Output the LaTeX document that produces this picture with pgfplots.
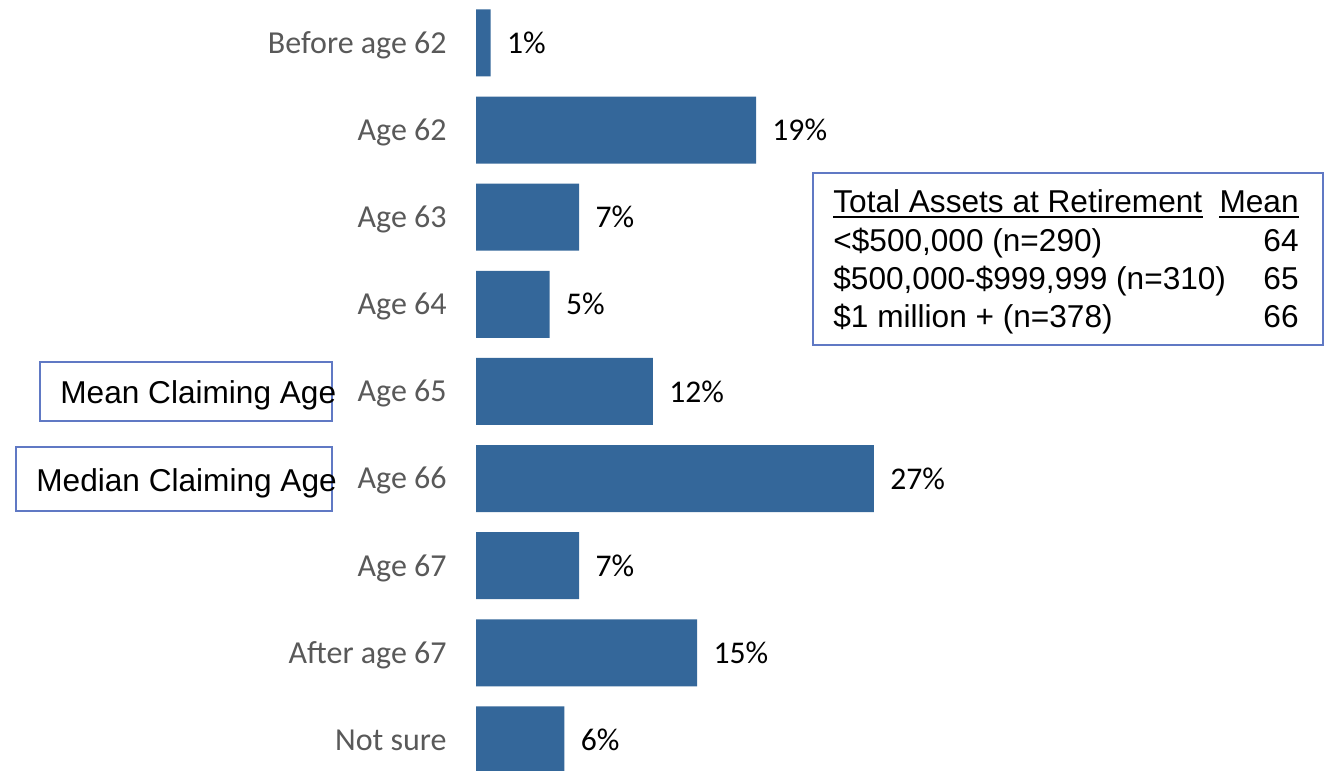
\documentclass[border=0pt]{standalone}
\usepackage{fontspec}
\setmainfont{Carlito}
\newfontfamily\arial{Liberation Sans}
\usepackage{pgfplots}
\pgfplotsset{compat=1.18}
\definecolor{barblue}{HTML}{34679A}
\definecolor{boxblue}{HTML}{6079C4}
\definecolor{tickgray}{HTML}{595959}

\begin{document}
\begin{tikzpicture}
\begin{axis}[
  at={(238pt,0.3pt)}, anchor=north west,
  scale only axis, width=206.36pt, height=392.06pt,
  xbar, bar width=33.5pt,
  xmin=0, xmax=28, ymin=-0.5, ymax=8.5, y dir=reverse,
  hide x axis,
  axis y line*=left, y axis line style={draw=none},
  ytick={0,1,2,3,4,5,6,7,8},
  yticklabels={Before age 62,Age 62,Age 63,Age 64,Age 65,Age 66,Age 67,After age 67,Not sure},
  major tick length=0pt, tick style={draw=none},
  yticklabel style={anchor=base east, inner sep=0pt, xshift=-14.5pt, yshift=-5.2pt,
    font=\fontsize{16}{19}\selectfont, text=tickgray},
  /pgf/number format/assume math mode=true,
  point meta=x,
  nodes near coords={\pgfmathprintnumber{\pgfplotspointmeta}\%},
  nodes near coords style={anchor=west, inner sep=0pt, xshift=8pt,
    font=\fontsize{15.8}{19}\selectfont, text=black},
  clip=false,
]
\addplot[fill=barblue, draw=none] coordinates {
  (1,0) (19,1) (7,2) (5,3) (12,4) (27,5) (7,6) (15,7) (6,8)};
\end{axis}
\pgfresetboundingbox
\useasboundingbox (0,0) rectangle (662pt,-385.5pt);

% annotation boxes
\draw[boxblue, line width=0.9pt] (20pt,-181pt) rectangle (166pt,-210.5pt);
\node[anchor=base west, inner sep=0pt, font=\arial\fontsize{15.8}{19}\selectfont] at (30pt,-201.7pt) {Mean Claiming Age};
\draw[boxblue, line width=0.9pt] (8pt,-223.5pt) rectangle (166pt,-255.5pt);
\node[anchor=base west, inner sep=0pt, font=\arial\fontsize{15.8}{19}\selectfont] at (18pt,-245.8pt) {Median Claiming Age};

% table box
\draw[boxblue, line width=0.9pt] (406.5pt,-86.3pt) rectangle (661.5pt,-172.5pt);
\begin{scope}[every node/.style={inner sep=0pt, font=\arial\fontsize{15.8}{19}\selectfont}]
\node[anchor=base west] (h1) at (416.5pt,-106pt) {Total Assets at Retirement};
\node[anchor=base east] (h2) at (649.5pt,-106pt) {Mean};
\draw[line width=0.75pt] ([yshift=-2.6pt]h1.base west) -- ([yshift=-2.6pt]h1.base east);
\draw[line width=0.75pt] ([yshift=-2.6pt]h2.base west) -- ([yshift=-2.6pt]h2.base east);
\node[anchor=base west] at (416.5pt,-125.5pt) {<\$500,000 (n=290)};
\node[anchor=base east] at (649.5pt,-125.5pt) {64};
\node[anchor=base west] at (416.5pt,-144.5pt) {\$500,000-\$999,999 (n=310)};
\node[anchor=base east] at (649.5pt,-144.5pt) {65};
\node[anchor=base west] at (416.5pt,-163.5pt) {\$1 million + (n=378)};
\node[anchor=base east] at (649.5pt,-163.5pt) {66};
\end{scope}
\end{tikzpicture}
\end{document}
